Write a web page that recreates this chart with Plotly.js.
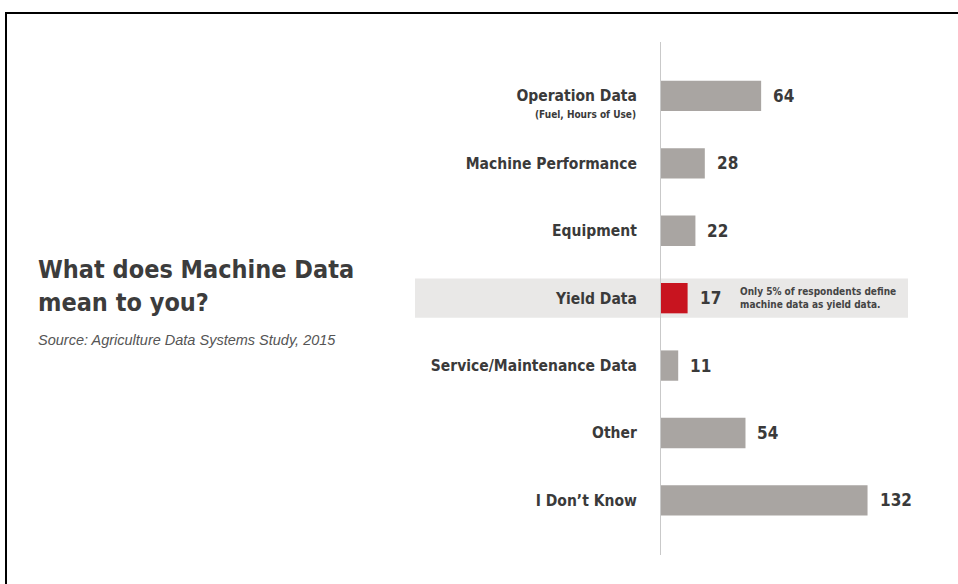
<!DOCTYPE html>
<html>
<head>
<meta charset="utf-8">
<script src="https://cdn.plot.ly/plotly-3.0.1.min.js"></script>
<style>
  html, body { margin: 0; padding: 0; background: #fff; }
  #wrap { position: relative; width: 958px; height: 584px; overflow: hidden; }
  #chart { width: 958px; height: 584px; }
  #frame { position: absolute; left: 5px; top: 12px; width: 960px; height: 600px;
           border-left: 2px solid #000; border-top: 2px solid #000; pointer-events: none; }
</style>
</head>
<body>
<div id="wrap">
  <div id="chart"></div>
  <div id="frame"></div>
</div>
<script>
// ---- data ----
const categories = ["Operation Data", "Machine Performance", "Equipment", "Yield Data",
                    "Service/Maintenance Data", "Other", "I Don\u2019t Know"];
const values = [64, 28, 22, 17, 11, 54, 132];
const highlightCategory = "Yield Data";
const subLabel = "(Fuel, Hours of Use)";
const noteText = "Only 5% of respondents define<br>machine data as yield data.";
const titleText = "What does Machine Data<br>mean to you?";
const sourceText = "Source: Agriculture Data Systems Study, 2015";

// ---- layout geometry ----
const L = 661, T = 42, W = 266, H = 513;
const FW = 958, FH = 584;
const px = x => (x - L) / W;
const py = y => 1 - (y - T) / H;

const FONT = "'Liberation Sans Narrow', 'DejaVu Sans Condensed', Roboto, sans-serif";
const GRAY = "#a9a5a2", RED = "#c8141f", TXT = "#3a3a3a";

const hiIdx = categories.indexOf(highlightCategory);
const colors = categories.map(c => c === highlightCategory ? RED : GRAY);
const yIdx = categories.map((c, i) => i);

const trace = {
  type: "bar",
  orientation: "h",
  x: values,
  y: yIdx,
  width: 0.45,
  marker: { color: colors, line: { width: 0 } },
  hoverinfo: "skip"
};

const annotations = [];
values.forEach((v, i) => {
  annotations.push({
    x: v, y: i, xref: "x", yref: "y", text: "<b>" + v + "</b>",
    showarrow: false, xanchor: "left", yanchor: "middle", xshift: 10,
    font: { family: FONT, size: 17, color: TXT }
  });
});
annotations.push({
  x: px(638), y: 0, xref: "paper", yref: "y", text: "<b>" + subLabel + "</b>",
  showarrow: false, xanchor: "right", yanchor: "middle", yshift: -19,
  font: { family: FONT, size: 10, color: TXT }
});
annotations.push({
  x: px(738), y: hiIdx, xref: "paper", yref: "y", text: "<b>" + noteText + "</b>",
  showarrow: false, xanchor: "left", yanchor: "middle", align: "left",
  font: { family: FONT, size: 10, color: "#444" }
});
annotations.push({
  x: px(36), y: py(253), xref: "paper", yref: "paper", text: "<b>" + titleText + "</b>",
  showarrow: false, xanchor: "left", yanchor: "top", align: "left",
  font: { family: FONT, size: 25, color: "#3c3c3c" }
});
annotations.push({
  x: px(36), y: py(340), xref: "paper", yref: "paper", text: "<i>" + sourceText + "</i>",
  showarrow: false, xanchor: "left", yanchor: "middle", align: "left",
  font: { family: "'Liberation Sans', Arial, sans-serif", size: 14.5, color: "#555" }
});

const layout = {
  width: FW, height: FH,
  margin: { l: L, t: T, r: FW - L - W, b: FH - T - H, pad: 0 },
  paper_bgcolor: "#fff", plot_bgcolor: "rgba(0,0,0,0)",
  showlegend: false,
  xaxis: { range: [0, 170], visible: false, fixedrange: true },
  yaxis: {
    range: [6.81, -0.8],
    tickvals: yIdx,
    ticktext: categories.map(c => "<b>" + c + "</b>"),
    ticks: "outside", ticklen: 20, tickcolor: "rgba(0,0,0,0)",
    showline: true, linecolor: "#c9c9c9", linewidth: 1,
    showgrid: false, zeroline: false,
    tickfont: { family: FONT, size: 15.5, color: TXT },
    fixedrange: true
  },
  shapes: [{
    type: "rect", layer: "below", xref: "paper", yref: "y",
    x0: px(415), x1: px(908), y0: hiIdx - 0.29, y1: hiIdx + 0.29,
    fillcolor: "#e9e8e7", line: { width: 0 }
  }],
  annotations: annotations
};

Plotly.newPlot("chart", [trace], layout, { displayModeBar: false, staticPlot: true });
</script>
</body>
</html>
